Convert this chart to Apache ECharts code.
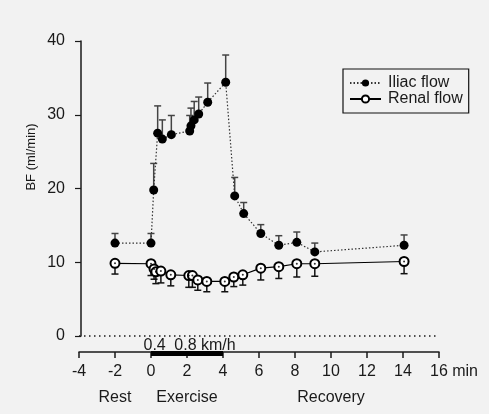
<!DOCTYPE html>
<html>
<head>
<meta charset="utf-8">
<script src="https://cdn.jsdelivr.net/npm/echarts@6/dist/echarts.min.js"></script>
<style>
  html, body { margin: 0; padding: 0; background: #f2f2f2; }
  #chart { width: 489px; height: 414px; }
</style>
</head>
<body>
<div id="chart"></div>
<script>
// Iliac blood flow: time (min), mean and upper error limit (ml/min)
const iliacTime  = [-2, 0, 0.15, 0.37, 0.63, 1.13, 2.15, 2.22, 2.4, 2.65, 3.15, 4.15, 4.65, 5.15, 6.1, 7.1, 8.1, 9.1, 14.06];
const iliacMean  = [12.6, 12.6, 19.8, 27.5, 26.7, 27.3, 27.8, 28.5, 29.3, 30.1, 31.7, 34.4, 19.0, 16.6, 13.9, 12.3, 12.7, 11.4, 12.3];
const iliacUpper = [13.9, 13.9, 23.4, 31.2, 29.3, 29.9, 29.9, 30.9, 31.8, 32.4, 34.3, 38.1, 21.5, 18.1, 15.1, 13.6, 14.1, 12.6, 13.7];

// Renal blood flow: time (min), mean and lower error limit (ml/min)
const renalTime  = [-2, 0, 0.17, 0.27, 0.55, 1.1, 2.1, 2.3, 2.6, 3.1, 4.1, 4.6, 5.1, 6.1, 7.1, 8.1, 9.1, 14.06];
const renalMean  = [9.85, 9.8, 9.1, 8.7, 8.8, 8.3, 8.2, 8.2, 7.6, 7.4, 7.4, 8.0, 8.3, 9.2, 9.4, 9.8, 9.8, 10.1];
const renalLower = [8.4, 8.2, 7.7, 7.1, 7.2, 6.8, 6.6, 6.6, 6.2, 6.0, 6.0, 6.7, 6.9, 7.6, 7.8, 8.0, 8.1, 8.45];

// Protocol phases under the time axis
const phaseNames = ['Rest', 'Exercise', 'Recovery'];
const phaseAt    = [-2, 2, 10];

// Treadmill period and speed labels
const exercisePeriod = [0, 4];
const speedLabels = ['0.4', '0.8 km/h'];
const speedAt     = [0.2, 3.0];

const FONT = '"Liberation Sans", Arial, sans-serif';
const INK = '#1a1a1a';
const AXIS_OFFSET = 16;
const FS = 16;
const TIME_MAX = 16;

const zip3 = (a, b, c) => a.map((v, i) => [v, b[i], c[i]]);
const zip2 = (a, b) => a.map((v, i) => [v, b[i]]);

function errorBar(color) {
  return function (params, api) {
    const x = api.value(0);
    const p0 = api.coord([x, api.value(1)]);
    const p1 = api.coord([x, api.value(2)]);
    const w = 3.5;
    const style = { stroke: color, lineWidth: 1.5 };
    return {
      type: 'group',
      children: [
        { type: 'line', shape: { x1: p0[0], y1: p0[1], x2: p1[0], y2: p1[1] }, style },
        { type: 'line', shape: { x1: p1[0] - w, y1: p1[1], x2: p1[0] + w, y2: p1[1] }, style }
      ]
    };
  };
}

const chart = echarts.init(document.getElementById('chart'), null, { renderer: 'canvas' });

chart.setOption({
  backgroundColor: '#f2f2f2',
  animation: false,
  textStyle: { fontFamily: FONT, color: INK },
  grid: { left: 79, top: 41, width: 360, height: 295 },
  legend: {
    data: ['Iliac flow', 'Renal flow'],
    orient: 'vertical',
    left: 343,
    top: 69,
    padding: [6, 6, 6, 6],
    itemGap: 0,
    itemWidth: 31,
    itemHeight: 9,
    borderColor: '#111',
    borderWidth: 1.2,
    textStyle: { fontFamily: FONT, fontSize: FS, color: INK, padding: [0, 0, 0, 2] }
  },
  xAxis: [
    {
      type: 'value', min: -4, max: TIME_MAX, interval: 2,
      offset: AXIS_OFFSET,
      axisLine: { show: true, onZero: false, lineStyle: { color: INK, width: 1.5 } },
      axisTick: { show: true, length: 6, lineStyle: { color: INK, width: 1.5 } },
      axisLabel: {
        margin: 12, fontSize: FS, color: INK, fontFamily: FONT,
        // the last tick carries the unit; a blank box on the left keeps the number centred on its tick
        formatter: v => v === TIME_MAX ? '{pad|}' + v + '{unit| min}' : String(v),
        rich: {
          pad: { width: 30 },
          unit: { fontSize: FS, fontFamily: FONT, color: INK }
        }
      },
      splitLine: { show: false }
    },
    {
      type: 'value', min: -4, max: TIME_MAX,
      position: 'bottom', offset: AXIS_OFFSET,
      axisLine: { show: false, onZero: false },
      axisTick: { show: false },
      splitLine: { show: false },
      axisLabel: {
        customValues: phaseAt,
        margin: 38, fontSize: FS, color: INK, fontFamily: FONT,
        formatter: v => phaseNames[phaseAt.indexOf(v)] || ''
      }
    }
  ],
  yAxis: {
    type: 'value', min: 0, max: 40, interval: 10,
    offset: -2,
    axisLine: { show: true, onZero: false, lineStyle: { color: INK, width: 1.5 } },
    axisTick: { show: true, length: 6, lineStyle: { color: INK, width: 1.2 } },
    axisLabel: { margin: 16, fontSize: FS, color: INK, fontFamily: FONT },
    splitLine: { show: false }
  },
  graphic: [
    {
      // axis title, read bottom to top
      type: 'text', x: 31, y: 157, rotation: Math.PI / 2,
      style: { text: 'BF (ml/min)', fontFamily: FONT, fontSize: 13, fill: INK, align: 'center', verticalAlign: 'middle' }
    }
  ],
  series: [
    {
      type: 'custom', name: 'iliacErr', silent: true, z: 2,
      renderItem: errorBar('#444'),
      data: zip3(iliacTime, iliacMean, iliacUpper)
    },
    {
      type: 'custom', name: 'renalErr', silent: true, z: 2,
      renderItem: errorBar('#111'),
      data: zip3(renalTime, renalMean, renalLower)
    },
    {
      type: 'line', name: 'Iliac flow', z: 3,
      data: zip2(iliacTime, iliacMean),
      symbol: 'circle', symbolSize: 9,
      itemStyle: { color: '#000' },
      lineStyle: { color: '#333', width: 1.2, type: [1.5, 2] },
      markLine: {
        silent: true, symbol: 'none', label: { show: false },
        lineStyle: { color: INK, width: 1.5, type: [1.5, 3.5] },
        data: [{ yAxis: 0 }]
      }
    },
    {
      type: 'line', name: 'Renal flow', z: 3,
      data: zip2(renalTime, renalMean),
      symbol: 'emptyCircle', symbolSize: 9,
      itemStyle: { color: '#000', borderWidth: 1.2 },
      lineStyle: { color: '#000', width: 1.2 }
    },
    {
      type: 'scatter', name: 'renalDot', silent: true, z: 4,
      data: zip2(renalTime, renalMean),
      symbol: 'circle', symbolSize: 2,
      itemStyle: { color: '#000' }
    },
    {
      type: 'custom', name: 'treadmill', silent: true, clip: false, z: 5,
      data: [[exercisePeriod[0], exercisePeriod[1]]],
      renderItem: function (params, api) {
        const a = api.coord([api.value(0), 0]);
        const b = api.coord([api.value(1), 0]);
        const yAxisLine = a[1] + AXIS_OFFSET;
        const children = [
          { type: 'rect', shape: { x: a[0], y: yAxisLine - 1, width: b[0] - a[0], height: 5 }, style: { fill: '#000' } }
        ];
        speedLabels.forEach((t, i) => {
          const p = api.coord([speedAt[i], 0]);
          children.push({
            type: 'text',
            x: p[0], y: yAxisLine - 6,
            style: { text: t, fontFamily: FONT, fontSize: FS, fill: INK, align: 'center', verticalAlign: 'middle' }
          });
        });
        return { type: 'group', children };
      }
    }
  ]
});
</script>
</body>
</html>
